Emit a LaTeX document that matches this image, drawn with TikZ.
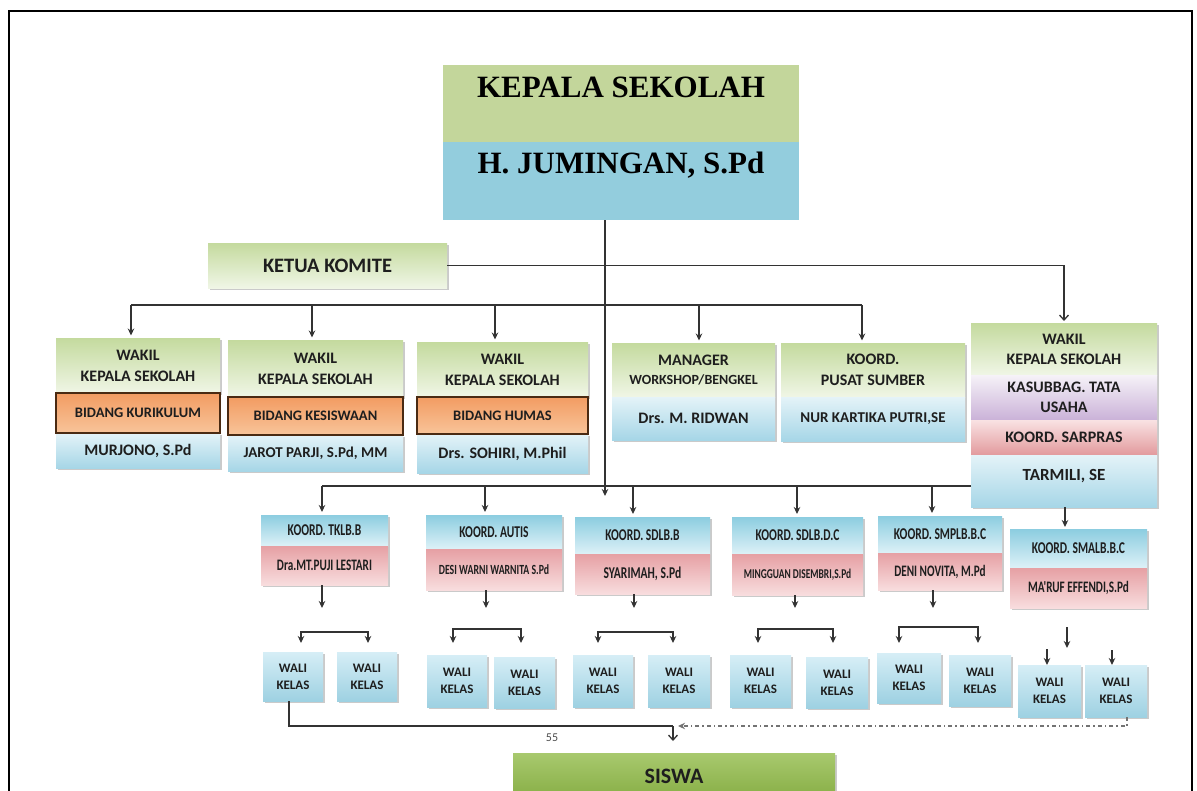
\documentclass[tikz,border=0pt]{standalone}
\usepackage{fontspec}
\setmainfont{Liberation Serif}
\newfontfamily\calib{Carlito}
\newfontfamily\condf{Carlito}[FakeStretch=0.7]
\usetikzlibrary{arrows.meta,shadows,calc}
\definecolor{kgreen}{HTML}{C3D69B}
\definecolor{kblue}{HTML}{93CDDD}
\definecolor{gTop}{HTML}{C4DA9E}
\definecolor{gBot}{HTML}{F0F6E6}
\definecolor{oTop}{HTML}{F29C62}
\definecolor{oBot}{HTML}{F8C49A}
\definecolor{bTop}{HTML}{E4F3F8}
\definecolor{bBot}{HTML}{A6D6E7}
\definecolor{kbTop}{HTML}{8CCDE0}
\definecolor{kbBot}{HTML}{DDF1F7}
\definecolor{pkTop}{HTML}{E6A0A4}
\definecolor{pkBot}{HTML}{F8DDDE}
\definecolor{puTop}{HTML}{F6F2F8}
\definecolor{puBot}{HTML}{CAB2D8}
\definecolor{prTop}{HTML}{F9E2E3}
\definecolor{prBot}{HTML}{E29A9D}
\definecolor{wTop}{HTML}{D6EEF6}
\definecolor{wBot}{HTML}{9ED1E2}
\definecolor{sTop}{HTML}{A8C96E}
\definecolor{sBot}{HTML}{86AD44}
\definecolor{txt}{HTML}{1E1E1E}
\definecolor{lnc}{HTML}{333333}
\definecolor{obord}{HTML}{4A2A12}
\begin{document}
\begin{tikzpicture}[x=1pt,y=-1pt,
  cell/.style={rectangle, inner sep=1pt, outer sep=0pt, anchor=north west, align=center, text=txt,
    font=\calib\bfseries\fontsize{16}{21}\selectfont},
  shd/.style={drop shadow={shadow xshift=1.6pt, shadow yshift=-1.6pt, opacity=0.35, fill=black!60}},
  gW/.style={top color=gTop, bottom color=gBot},
  oW/.style={top color=oTop, bottom color=oBot, draw=obord, line width=1.8pt},
  bW/.style={top color=bTop, bottom color=bBot},
  kbW/.style={top color=kbTop, bottom color=kbBot},
  pkW/.style={top color=pkTop, bottom color=pkBot},
  puW/.style={top color=puTop, bottom color=puBot},
  prW/.style={top color=prTop, bottom color=prBot},
  wW/.style={top color=wTop, bottom color=wBot},
  sW/.style={top color=sTop, bottom color=sBot},
  kfont/.style={font=\condf\bfseries\fontsize{16.5}{18}\selectfont},
  kname/.style={font=\condf\bfseries\fontsize{16}{18}\selectfont},
  wfont/.style={font=\calib\bfseries\fontsize{13}{17}\selectfont},
  ln/.style={line width=1.3pt, draw=lnc},
  arr/.style={-{Stealth[length=7pt,width=6.5pt]}},
  oarr/.style={-{Straight Barb[length=5pt,width=9pt]}},
  bothArr/.style={{Stealth[length=7pt,width=6.5pt]}-{Stealth[length=7pt,width=6.5pt]}},
  dotln/.style={line width=1.1pt, draw=black!55, dash pattern=on 4pt off 3pt on 1.5pt off 3pt}
]
\useasboundingbox (0,0) rectangle (1197,790);
% outer frame
\draw[line width=2.2pt, black] (9,800) -- (9,11) -- (1192,11) -- (1192,800);

% Kepala sekolah
\node[cell, fill=kgreen, minimum width=356, minimum height=77] (kps) at (443,65) {};
\node[cell, fill=kblue, minimum width=356, minimum height=78] (kpb) at (443,142) {};
\node[anchor=base, inner sep=0, font=\rmfamily\bfseries\fontsize{31}{31}\selectfont] (kpst) at (621,97) {KEPALA SEKOLAH};
\node[anchor=base, inner sep=0, font=\rmfamily\bfseries\fontsize{31}{31}\selectfont] (kpbt) at (621,173) {H. JUMINGAN, S.Pd};

% Ketua komite
\node[cell, gW, shd, minimum width=239, minimum height=45, font=\calib\bfseries\fontsize{20.5}{20.5}\selectfont] (ket) at (208,243) {KETUA KOMITE};

% Row 2 boxes
\node[cell, gW, shd, minimum width=164, minimum height=55] (w1a) at (56,338) {WAKIL\\KEPALA SEKOLAH};
\node[cell, bW, shd, minimum width=164, minimum height=35] (w1c) at (56,433) {MURJONO, S.Pd};
\node[cell, oW, minimum width=164, minimum height=40, font=\calib\bfseries\fontsize{14.5}{16}\selectfont] (w1b) at (56,393) {BIDANG KURIKULUM};

\node[cell, gW, shd, minimum width=175, minimum height=57] (w2a) at (228,340) {WAKIL\\KEPALA SEKOLAH};
\node[cell, bW, shd, minimum width=175, minimum height=36, font=\calib\bfseries\fontsize{15}{16}\selectfont] (w2c) at (228,435) {JAROT PARJI, S.Pd, MM};
\node[cell, oW, minimum width=175, minimum height=38, font=\calib\bfseries\fontsize{14.5}{16}\selectfont] (w2b) at (228,397) {BIDANG KESISWAAN};

\node[cell, gW, shd, minimum width=171, minimum height=55] (w3a) at (417,342) {WAKIL\\KEPALA SEKOLAH};
\node[cell, bW, shd, minimum width=171, minimum height=39] (w3c) at (417,434) {Drs. SOHIRI, M.Phil};
\node[cell, oW, minimum width=171, minimum height=37, font=\calib\bfseries\fontsize{14.5}{16}\selectfont] (w3b) at (417,397) {BIDANG HUMAS};

\node[cell, gW, shd, minimum width=163, minimum height=54] (mga) at (612,343) {MANAGER\\[-2pt]{\fontsize{14}{15}\selectfont WORKSHOP/BENGKEL}};
\node[cell, bW, shd, minimum width=163, minimum height=43] (mgb) at (612,397) {Drs. M. RIDWAN};

\node[cell, gW, shd, minimum width=184, minimum height=54] (psa) at (781,343) {KOORD.\\PUSAT SUMBER};
\node[cell, bW, shd, minimum width=184, minimum height=44, font=\calib\bfseries\fontsize{15}{16}\selectfont] (psb) at (781,397) {NUR KARTIKA PUTRI,SE};

\node[cell, gW, shd, minimum width=186, minimum height=52, font=\calib\bfseries\fontsize{16}{20}\selectfont] (wr1) at (971,323) {WAKIL\\KEPALA SEKOLAH};
\node[cell, puW, shd, minimum width=186, minimum height=45, font=\calib\bfseries\fontsize{16}{20}\selectfont] (wr2) at (971,375) {KASUBBAG. TATA\\USAHA};
\node[cell, prW, shd, minimum width=186, minimum height=35] (wr3) at (971,420) {KOORD. SARPRAS};
\node[cell, bW, shd, minimum width=186, minimum height=52] (wr4) at (971,455) {};
\node[anchor=base, inner sep=0, text=txt, font=\calib\bfseries\fontsize{17}{17}\selectfont] (wr4t) at (1064,480) {TARMILI, SE};

% Koord boxes
\node[cell, kbW, shd, kfont, minimum width=127, minimum height=31] (k1a) at (261,515) {KOORD. TKLB.B};
\node[cell, pkW, shd, kname, minimum width=127, minimum height=39] (k1b) at (261,546) {Dra.MT.PUJI LESTARI};
\node[cell, kbW, shd, kfont, minimum width=136, minimum height=34] (k2a) at (426,515) {KOORD. AUTIS};
\node[cell, pkW, shd, minimum width=136, minimum height=41, font=\condf\bfseries\fontsize{14}{16}\selectfont] (k2b) at (426,549) {DESI WARNI WARNITA S.Pd};
\node[cell, kbW, shd, kfont, minimum width=135, minimum height=37] (k3a) at (575,517) {KOORD. SDLB.B};
\node[cell, pkW, shd, minimum width=135, minimum height=40, font=\condf\bfseries\fontsize{16.5}{18}\selectfont] (k3b) at (575,554) {SYARIMAH, S.Pd};
\node[cell, kbW, shd, kfont, minimum width=131, minimum height=37] (k4a) at (732,517) {KOORD. SDLB.D.C};
\node[cell, pkW, shd, minimum width=131, minimum height=41, font=\condf\bfseries\fontsize{13.5}{15}\selectfont] (k4b) at (732,554) {MINGGUAN DISEMBRI,S.Pd};
\node[cell, kbW, shd, kfont, minimum width=124, minimum height=37] (k5a) at (878,516) {KOORD. SMPLB.B.C};
\node[cell, pkW, shd, kname, minimum width=124, minimum height=37] (k5b) at (878,553) {DENI NOVITA, M.Pd};
\node[cell, kbW, shd, kfont, minimum width=137, minimum height=39] (k6a) at (1010,529) {KOORD. SMALB.B.C};
\node[cell, pkW, shd, kname, minimum width=137, minimum height=40] (k6b) at (1010,568) {MA'RUF EFFENDI,S.Pd};

% Wali kelas boxes
\node[cell, wW, shd, wfont, minimum width=60, minimum height=49] (v1a) at (263,652) {WALI\\KELAS};
\node[cell, wW, shd, wfont, minimum width=60, minimum height=49] (v1b) at (337,652) {WALI\\KELAS};
\node[cell, wW, shd, wfont, minimum width=60, minimum height=52] (v2a) at (427,655) {WALI\\KELAS};
\node[cell, wW, shd, wfont, minimum width=61, minimum height=51] (v2b) at (494,657) {WALI\\KELAS};
\node[cell, wW, shd, wfont, minimum width=60, minimum height=52] (v3a) at (573,655) {WALI\\KELAS};
\node[cell, wW, shd, wfont, minimum width=62, minimum height=52] (v3b) at (648,655) {WALI\\KELAS};
\node[cell, wW, shd, wfont, minimum width=61, minimum height=52] (v4a) at (730,655) {WALI\\KELAS};
\node[cell, wW, shd, wfont, minimum width=62, minimum height=51] (v4b) at (806,657) {WALI\\KELAS};
\node[cell, wW, shd, wfont, minimum width=64, minimum height=50] (v5a) at (877,653) {WALI\\KELAS};
\node[cell, wW, shd, wfont, minimum width=62, minimum height=51] (v5b) at (949,655) {WALI\\KELAS};
\node[cell, wW, shd, wfont, minimum width=63, minimum height=52] (v6a) at (1018,665) {WALI\\KELAS};
\node[cell, wW, shd, wfont, minimum width=62, minimum height=52] (v6b) at (1085,665) {WALI\\KELAS};

% Siswa
\node[cell, sW, shd, minimum width=322, minimum height=47, font=\calib\bfseries\fontsize{22}{22}\selectfont] (sis) at (513,753) {SISWA};
\node[inner sep=0, text=black!70, font=\calib\fontsize{12}{12}\selectfont] (n55) at (552,738) {55};

% ---------- connectors ----------
\coordinate (hb2) at (0,305);
\coordinate (hb3) at (0,486);
\coordinate (main) at ([xshift=162]kpb.south west);
\coordinate (mainend) at (605,496);
% Ketua -> right wakil
\coordinate (d0) at ([xshift=93]wr1.north west);
\draw[ln, oarr, shorten >=2pt] (ket.east) -| (d0);
% second horizontal bus
\coordinate (d1) at ([xshift=75]w1a.north west);
\coordinate (d2) at ([xshift=84]w2a.north west);
\coordinate (d3) at ([xshift=78]w3a.north west);
\coordinate (d4) at ([xshift=87]mga.north west);
\coordinate (d5) at ([xshift=81]psa.north west);
\draw[ln] (d1 |- hb2) -- (d5 |- hb2);
\foreach \d in {d1,d2,d3,d4,d5} \draw[ln, arr, shorten >=2.5pt] (\d |- hb2) -- (\d);
% third bus
\coordinate (e1) at ([xshift=61]k1a.north west);
\coordinate (e2) at ([xshift=59]k2a.north west);
\coordinate (e3) at ([xshift=58]k3a.north west);
\coordinate (e4) at ([xshift=65]k4a.north west);
\coordinate (e5) at ([xshift=54]k5a.north west);
\draw[ln] (wr4.west |- hb3) -- (e1 |- hb3);
\foreach \e in {e1,e2,e3,e4,e5} \draw[ln, arr, shorten >=3pt] (\e |- hb3) -- (\e);
% main vertical
\draw[ln, arr] (main) -- (mainend);
% wakil -> SMALB
\coordinate (e6) at ([xshift=94]wr4.south west);
\draw[ln, arr, shorten >=2pt] (e6) -- (e6 |- k6a.north);
% arrows below koord boxes
\coordinate (kb) at (0,608);
\foreach \k/\s in {k1b/61,k2b/60,k3b/59,k4b/63,k5b/55}
  \draw[ln, arr] ([xshift=\s]\k.south west) -- ([xshift=\s]\k.south west |- kb);
\coordinate (s6a) at (1067,627);
\coordinate (s6b) at (1067,648);
\draw[ln, arr] (s6a) -- (s6b);
% brackets
\coordinate (g1l) at (301,643); \coordinate (g1r) at (368,643);
\coordinate (g2l) at (453,643); \coordinate (g2r) at (521,643);
\coordinate (g3l) at (598,643); \coordinate (g3r) at (673,643);
\coordinate (g4l) at (758,643); \coordinate (g4r) at (833,643);
\coordinate (g5l) at (899,643); \coordinate (g5r) at (978,643);
\draw[ln, bothArr] (g1l) -- (301,632) -| (g1r);
\draw[ln, bothArr] (g2l) -- (453,629) -| (g2r);
\draw[ln, bothArr] (g3l) -- (598,632) -| (g3r);
\draw[ln, bothArr] (g4l) -- (758,629) -| (g4r);
\draw[ln, bothArr] (g5l) -- (899,627) -| (g5r);
\coordinate (h6a) at (1047,649);
\coordinate (h6b) at (1112,650);
\draw[ln, arr] (h6a) -- (h6a |- v6a.north);
\draw[ln, arr] (h6b) -- (h6b |- v6b.north);
% bottom lines to siswa
\coordinate (jn) at (673,726);
\coordinate (jn2) at (673,741);
\coordinate (jd) at (678,726);
\draw[ln] ([xshift=-4]v1a.south) |- (jn);
\draw[ln, oarr] (jn) -- (jn2);
\draw[dotln, arr] ([xshift=-20]v6b.south east) |- (jd);
\end{tikzpicture}
\end{document}
